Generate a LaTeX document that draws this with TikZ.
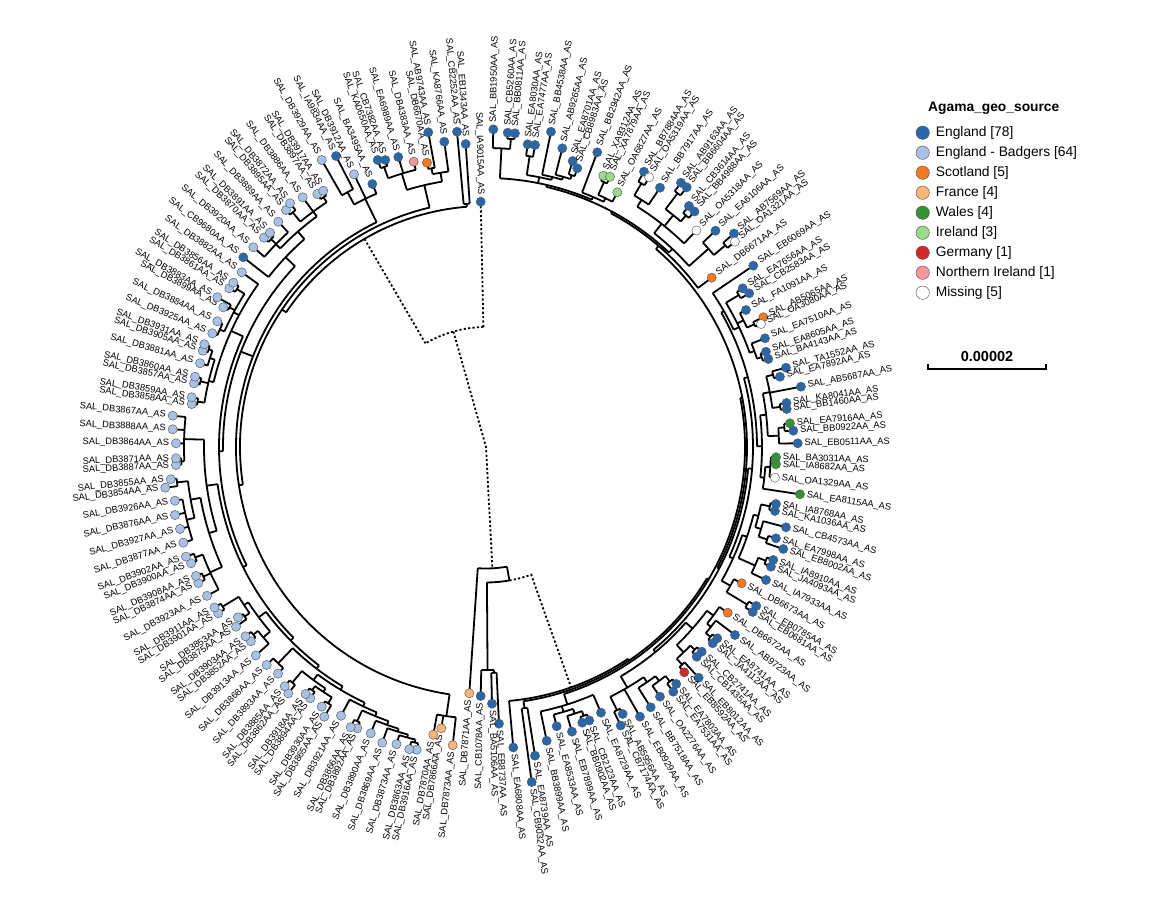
\documentclass[tikz,border=0pt]{standalone}
\usepackage{fontspec}
\setmainfont{Liberation Sans}
\usetikzlibrary{calc}
\pgfdeclarelayer{bg}
\pgfsetlayers{bg,main}
\definecolor{cEng}{RGB}{40,104,170}
\definecolor{cBad}{RGB}{168,193,230}
\definecolor{cSco}{RGB}{243,121,34}
\definecolor{cFra}{RGB}{250,182,118}
\definecolor{cWal}{RGB}{52,148,52}
\definecolor{cIre}{RGB}{152,220,138}
\definecolor{cGer}{RGB}{210,40,40}
\definecolor{cNIr}{RGB}{245,150,150}
\definecolor{cMis}{RGB}{255,255,255}
\tikzset{
  br/.style={line width=1.8pt},
  dotl/.style={line width=1.8pt, dash pattern=on 2.2pt off 2.2pt},
  leafdot/.style={circle, draw=black!65, line width=0.45pt, minimum size=9.2pt, inner sep=0pt},
  legdot/.style={circle, draw=black!65, line width=0.45pt, minimum size=13.4pt, inner sep=0pt},
  lbl/.style={font=\fontsize{9.3}{10}\selectfont, inner sep=0pt},
  legtxt/.style={font=\fontsize{13.8}{16}\selectfont, inner sep=0pt, anchor=west},
}
\newcommand\mkleaf[4]{%
  \pgfmathsetmacro\tmpA{atan2(447-#3,#2-486)}%
  \pgfmathsetmacro\tmpA{\tmpA+360*(\tmpA<-95)}%
  \pgfmathsetmacro\tmpR{veclen(#2-486,447-#3)}%
  \expandafter\xdef\csname th@#1\endcsname{\tmpA}%
  \expandafter\xdef\csname r@#1\endcsname{\tmpR}%
  \node[leafdot, fill=#4] (d#1) at (\tmpA:\tmpR) {};%
  \pgfmathsetmacro\tmpL{\tmpR+6.8}%
  \pgfmathtruncatemacro\tmpS{cos(\tmpA)>=0}%
  \ifnum\tmpS=1
    \node[lbl, anchor=west, rotate=\tmpA] (t#1) at (\tmpA:\tmpL) {SAL\_#1AA\_AS};%
  \else
    \pgfmathsetmacro\tmpB{\tmpA+180}%
    \node[lbl, anchor=east, rotate=\tmpB] (t#1) at (\tmpA:\tmpL) {SAL\_#1AA\_AS};%
  \fi
}
\newcommand\mknode[3]{%
  \foreach \ndc [count=\ndi] in {#3} {\ifnum\ndi=1 \xdef\ndF{\ndc}\fi \xdef\ndL{\ndc}}%
  \edef\ndA{\csname th@\ndF\endcsname}%
  \edef\ndB{\csname th@\ndL\endcsname}%
  \pgfmathsetmacro\ndM{(\ndA+\ndB)/2}%
  \expandafter\xdef\csname th@#1\endcsname{\ndM}%
  \expandafter\xdef\csname r@#1\endcsname{#2}%
  \begin{pgfonlayer}{bg}%
    \draw[br] (\ndA:#2) arc[start angle=\ndA, end angle=\ndB, radius=#2];%
    \foreach \ndc in {#3} {%
      \edef\nca{\csname th@\ndc\endcsname}\edef\ncr{\csname r@\ndc\endcsname}%
      \draw[br] (\nca:#2) -- (\nca:\ncr);}%
  \end{pgfonlayer}%
}
\begin{document}
\begin{tikzpicture}[x=1pt,y=1pt]
\useasboundingbox (-486,-470) rectangle (674,447);
\begin{pgfonlayer}{bg}
\fill[white] (-486,-470) rectangle (674,447);
\end{pgfonlayer}
% ---------- leaves ----------
\mkleaf{IA9015}{480.7}{201.7}{cEng}
\mkleaf{BB1950}{493.3}{129.3}{cEng}
\mkleaf{CB5260}{507.7}{132.7}{cEng}
\mkleaf{BB0811}{515}{133.3}{cEng}
\mkleaf{EA8030}{527.7}{144.3}{cEng}
\mkleaf{EA7477}{535}{145}{cEng}
\mkleaf{BB4538}{551}{131.7}{cEng}
\mkleaf{AB9265}{562.3}{148.3}{cEng}
\mkleaf{EA8701}{572.7}{161}{cEng}
\mkleaf{CB8983}{577.3}{168.3}{cEng}
\mkleaf{BB2942}{597.3}{152.3}{cEng}
\mkleaf{XA9312}{603.3}{175.7}{cIre}
\mkleaf{XA7879}{610}{176.7}{cIre}
\mkleaf{OA6827}{617.3}{192.3}{cIre}
\mkleaf{BB7884}{644}{171.7}{cEng}
\mkleaf{OA5319}{649.3}{177.3}{cMis}
\mkleaf{BB7917}{660}{187.7}{cEng}
\mkleaf{AB9163}{681}{182.7}{cEng}
\mkleaf{BB6604}{686.7}{187.3}{cEng}
\mkleaf{CB3614}{689}{206}{cEng}
\mkleaf{BB4988}{694.5}{211.5}{cEng}
\mkleaf{OA5318}{696.5}{230.5}{cMis}
\mkleaf{EA6106}{715.5}{230.7}{cEng}
\mkleaf{AB7569}{734}{233.5}{cEng}
\mkleaf{OA1321}{735}{241.7}{cMis}
\mkleaf{DB6671}{711.7}{277.7}{cSco}
\mkleaf{EB6069}{753.3}{265.7}{cEng}
\mkleaf{EA7656}{742.7}{288.3}{cEng}
\mkleaf{CB2583}{749.3}{293.3}{cEng}
\mkleaf{FA1091}{746}{310}{cEng}
\mkleaf{AB5065}{763.3}{317.3}{cSco}
\mkleaf{OA3080}{761}{324}{cMis}
\mkleaf{EA7510}{765}{338.3}{cEng}
\mkleaf{EA8605}{766}{351.7}{cEng}
\mkleaf{BA4143}{768.3}{359}{cEng}
\mkleaf{TA1552}{786}{367.7}{cEng}
\mkleaf{EA7892}{780}{376.7}{cEng}
\mkleaf{AB5687}{801}{386.7}{cEng}
\mkleaf{KA8041}{786.5}{403}{cEng}
\mkleaf{BB1460}{786.7}{409}{cEng}
\mkleaf{EA7916}{790}{423.3}{cWal}
\mkleaf{BB0922}{793.3}{430.7}{cEng}
\mkleaf{EB0511}{797.7}{443.3}{cEng}
\mkleaf{BA3031}{776}{457.3}{cWal}
\mkleaf{IA8682}{776}{464.3}{cWal}
\mkleaf{OA1329}{775}{477.7}{cMis}
\mkleaf{EA8115}{800}{494.3}{cWal}
\mkleaf{IA8768}{776}{504}{cEng}
\mkleaf{KA1036}{775}{511}{cEng}
\mkleaf{CB4573}{786}{527.3}{cEng}
\mkleaf{EA7998}{776}{538.3}{cEng}
\mkleaf{EB8002}{783.3}{549}{cEng}
\mkleaf{IA8910}{773.3}{560}{cEng}
\mkleaf{JA4093}{771}{566.7}{cEng}
\mkleaf{IA7933}{766}{580}{cEng}
\mkleaf{DB6673}{741.7}{583.3}{cSco}
\mkleaf{EB0785}{756.3}{606}{cEng}
\mkleaf{EB0681}{752.7}{612}{cEng}
\mkleaf{DB6672}{727.7}{612.7}{cSco}
\mkleaf{AB9723}{735}{635}{cEng}
\mkleaf{EA8741}{717.3}{638.3}{cEng}
\mkleaf{JA4112}{712.7}{643.3}{cEng}
\mkleaf{CB2741}{701.7}{651.7}{cEng}
\mkleaf{CB1435}{696.7}{656.7}{cEng}
\mkleaf{EB8012}{698.7}{677.7}{cEng}
\mkleaf{EB8592}{684.3}{672.3}{cGer}
\mkleaf{EA7803}{676.3}{684}{cEng}
\mkleaf{EA7531}{673.3}{691.7}{cEng}
\mkleaf{OA2276}{660}{696.7}{cEng}
\mkleaf{BB7518}{650.7}{707.3}{cEng}
\mkleaf{EB0929}{640}{716.7}{cEng}
\mkleaf{AB5956}{622.7}{714}{cEng}
\mkleaf{CB7174}{620.7}{725.5}{cEng}
\mkleaf{EA8729}{601}{712.7}{cEng}
\mkleaf{CB2123}{589.3}{720.5}{cEng}
\mkleaf{BB0902}{582.3}{722.7}{cEng}
\mkleaf{EB7899}{572}{731.7}{cEng}
\mkleaf{EA8533}{556.7}{726.3}{cEng}
\mkleaf{BB3899}{546.7}{740.8}{cEng}
\mkleaf{EA8739}{535}{755.7}{cEng}
\mkleaf{CB9032}{531.7}{782}{cEng}
\mkleaf{EA6808}{513.3}{747.5}{cEng}
\mkleaf{EB8737}{499}{723.7}{cEng}
\mkleaf{BA5106}{492}{703.7}{cEng}
\mkleaf{CB1078}{480.7}{696}{cEng}
\mkleaf{DB7871}{469.3}{693.3}{cFra}
\mkleaf{DB7873}{452.7}{745.2}{cFra}
\mkleaf{DB7866}{441.3}{728.3}{cFra}
\mkleaf{DB7870}{433.3}{734.7}{cFra}
\mkleaf{DB3916}{416.7}{749.7}{cBad}
\mkleaf{DB3863}{409.3}{749.3}{cBad}
\mkleaf{DB3873}{396.5}{744.2}{cBad}
\mkleaf{DB3869}{382.3}{742.7}{cBad}
\mkleaf{DB3890}{370.7}{733.3}{cBad}
\mkleaf{DB3892}{357.3}{728.3}{cBad}
\mkleaf{DB3866}{350.7}{727.3}{cBad}
\mkleaf{DB3921}{341}{715.7}{cBad}
\mkleaf{DB3865}{324.3}{716.7}{cBad}
\mkleaf{DB3930}{321.7}{706.7}{cBad}
\mkleaf{DB3894}{310.3}{698.3}{cBad}
\mkleaf{DB3918}{305.5}{694}{cBad}
\mkleaf{DB3862}{288.3}{693.3}{cBad}
\mkleaf{DB3885}{284.7}{686.3}{cBad}
\mkleaf{DB3893}{278}{673.7}{cBad}
\mkleaf{DB3868}{266.7}{665}{cBad}
\mkleaf{DB3913}{255.8}{655.5}{cBad}
\mkleaf{DB3852}{250.8}{641.3}{cBad}
\mkleaf{DB3903}{245.5}{636.3}{cBad}
\mkleaf{DB3875}{236}{626.7}{cBad}
\mkleaf{DB3853}{238}{617.3}{cBad}
\mkleaf{DB3901}{218.3}{613.3}{cBad}
\mkleaf{DB3911}{214.5}{607.5}{cBad}
\mkleaf{DB3923}{207}{595.8}{cBad}
\mkleaf{DB3874}{198.3}{583}{cBad}
\mkleaf{DB3908}{196}{576}{cBad}
\mkleaf{DB3900}{191}{563.3}{cBad}
\mkleaf{DB3902}{186}{556.7}{cBad}
\mkleaf{DB3877}{183.3}{542.7}{cBad}
\mkleaf{DB3927}{180}{529}{cBad}
\mkleaf{DB3876}{175}{515}{cBad}
\mkleaf{DB3926}{175}{500.7}{cBad}
\mkleaf{DB3854}{165.3}{487.7}{cBad}
\mkleaf{DB3855}{170.7}{479.3}{cBad}
\mkleaf{DB3887}{176}{465}{cBad}
\mkleaf{DB3871}{176}{458.3}{cBad}
\mkleaf{DB3864}{176}{443.3}{cBad}
\mkleaf{DB3888}{172.7}{429.3}{cBad}
\mkleaf{DB3867}{172.7}{415.7}{cBad}
\mkleaf{DB3858}{191.7}{404}{cBad}
\mkleaf{DB3859}{191.7}{397.3}{cBad}
\mkleaf{DB3857}{194}{383.3}{cBad}
\mkleaf{DB3860}{195}{376.7}{cBad}
\mkleaf{DB3881}{200}{363.3}{cBad}
\mkleaf{DB3905}{202.7}{350.7}{cBad}
\mkleaf{DB3931}{204.3}{344.3}{cBad}
\mkleaf{DB3925}{212.3}{333.3}{cBad}
\mkleaf{DB3884}{217.3}{321.3}{cBad}
\mkleaf{DB3899}{223.3}{307.3}{cBad}
\mkleaf{DB3883}{217.3}{297.3}{cBad}
\mkleaf{DB3861}{229.3}{288.3}{cBad}
\mkleaf{DB3856}{233.3}{282.7}{cBad}
\mkleaf{DB3882}{241.7}{272.3}{cBad}
\mkleaf{CB9680}{243.3}{257.3}{cEng}
\mkleaf{DB3920}{253.3}{247.3}{cBad}
\mkleaf{DB3870}{264}{237.7}{cBad}
\mkleaf{DB3891}{270}{232.7}{cBad}
\mkleaf{DB3889}{278.3}{221.7}{cBad}
\mkleaf{DB3895}{286}{210}{cBad}
\mkleaf{DB3872}{290}{203.3}{cBad}
\mkleaf{DB3886}{302.7}{197.3}{cBad}
\mkleaf{DB3897}{317.3}{194}{cBad}
\mkleaf{DB3917}{323.3}{190.7}{cBad}
\mkleaf{DB3929}{321.7}{160}{cBad}
\mkleaf{IA9834}{336}{156}{cEng}
\mkleaf{DB3912}{354}{174.3}{cBad}
\mkleaf{BA3495}{372.3}{184}{cEng}
\mkleaf{KA0650}{377.7}{160}{cEng}
\mkleaf{CB7382}{385.3}{160}{cEng}
\mkleaf{EA6989}{398.3}{157}{cEng}
\mkleaf{DB4383}{413.7}{161.7}{cNIr}
\mkleaf{DB6670}{427}{162.7}{cSco}
\mkleaf{AB9743}{428.3}{132.3}{cEng}
\mkleaf{KA8766}{444.3}{141.7}{cEng}
\mkleaf{CB2252}{457}{131.7}{cEng}
\mkleaf{EB1343}{465.7}{144}{cEng}
% ---------- right clade ----------
\mknode{nCB}{309}{CB5260,BB0811}
\mknode{g1}{299}{BB1950,nCB}
\mknode{g2}{294}{EA8030,EA7477}
\mknode{A7}{285}{EA8701,CB8983}
\mknode{A6}{281}{AB9265,A7}
\mknode{A5}{278}{BB4538,A6}
\mknode{A4}{275}{g2,A5}
\mknode{g8a}{290}{XA9312,XA7879}
\mknode{g8}{276}{g8a,OA6827}
\mknode{A3}{272}{BB2942,g8}
\mknode{A2}{269}{g1,A4,A3}
\mknode{g9a}{306}{BB7884,OA5319}
\mknode{g9}{292}{g9a,BB7917}
\mknode{g10a}{318}{AB9163,BB6604}
\mknode{g10b}{306}{CB3614,BB4988}
\mknode{g10}{298}{g10a,g10b}
\mknode{g9x}{284}{g9,g10,OA5318}
\mknode{g12a}{313}{AB7569,OA1321}
\mknode{g12}{298}{EA6106,g12a}
\mknode{g13}{272}{g9x,g12}
\mknode{A1}{267}{A2,g13}
\mknode{RT}{265}{A1,DB6671}
\mknode{m1a}{295}{EA7656,CB2583}
\mknode{m1b}{295}{AB5065,OA3080}
\mknode{m1c}{290}{EA8605,BA4143}
\mknode{m1e}{285}{EA7510,m1c}
\mknode{m1f}{287}{FA1091,m1b}
\mknode{m1d}{280}{m1a,m1f,m1e}
\mknode{m1}{274}{EB6069,m1d}
\mknode{m2a}{296}{TA1552,EA7892}
\mknode{m2b}{297}{KA8041,BB1460}
\mknode{m2}{289}{m2a,AB5687,m2b}
\mknode{m3a}{299}{EA7916,BB0922}
\mknode{m3}{293}{m3a,EB0511}
\mknode{m23}{282}{m2,m3}
\mknode{m4a}{285}{BA3031,IA8682,OA1329}
\mknode{m4}{280}{m4a,EA8115}
\mknode{M1}{276}{m23,m4}
\mknode{M2}{271}{m1,M1}
\mknode{m5a}{290}{IA8768,KA1036}
\mknode{m5b}{296}{EA7998,EB8002}
\mknode{m5c}{287}{CB4573,m5b}
\mknode{m5}{281}{m5a,m5c}
\mknode{m6a}{302}{IA8910,JA4093}
\mknode{m6}{294}{m6a,IA7933}
\mknode{M3}{276}{m5,m6}
\mknode{m7a}{305}{EB0785,EB0681}
\mknode{m7}{281}{DB6673,m7a}
\mknode{M4}{271}{M3,m7}
\mknode{M5}{267}{M2,M4}
\mknode{b1a}{294}{EA8741,JA4112}
\mknode{b1b}{288}{AB9723,b1a}
\mknode{b1}{283}{DB6672,b1b}
\mknode{b2a}{291}{CB2741,CB1435}
\mknode{b2b}{293}{EB8012,EB8592}
\mknode{b2}{285}{b2a,b2b}
\mknode{B1}{275}{b1,b2}
\mknode{b3a}{298}{EA7803,EA7531}
\mknode{b3}{291}{b3a,OA2276}
\mknode{b4}{285}{b3,BB7518}
\mknode{b5a}{294}{AB5956,CB7174}
\mknode{b5}{279}{b4,EB0929,b5a}
\mknode{B2}{266}{B1,b5}
\mknode{b6a}{286}{CB2123,BB0902}
\mknode{b6}{281}{b6a,EB7899}
\mknode{b7}{276}{b6,EA8533}
\mknode{b8}{270}{EA8729,b7,BB3899}
\mknode{b9}{264}{EA8739,CB9032}
\mknode{Q4}{263}{M5,B2}
\mknode{Q3}{261}{RT,Q4}
\mknode{Q2}{259}{Q3,b8}
\mknode{Q1}{257}{Q2,b9}
\mknode{RR}{255}{Q1,EA6808}
% ---------- bottom group ----------
\mknode{bg1}{226}{EB8737,BA5106}
\mknode{bg2}{223}{bg1,CB1078}
% ---------- left clade ----------
\mknode{fr1}{272}{DB7873,DB7866,DB7870}
\mknode{p1}{304}{DB3916,DB3863}
\mknode{q1}{301}{p1,DB3873}
\mknode{q2}{298}{q1,DB3869}
\mknode{q3}{295}{q2,DB3890}
\mknode{p2}{303}{DB3892,DB3866}
\mknode{q4}{291}{q3,p2}
\mknode{q5}{287}{q4,DB3921}
\mknode{p3}{301}{DB3865,DB3930}
\mknode{p4}{299}{DB3894,DB3918}
\mknode{q6}{294}{p3,p4}
\mknode{p5}{305}{DB3862,DB3885}
\mknode{q7}{290}{q6,p5}
\mknode{q8}{283}{q5,q7}
\mknode{q9}{300}{DB3893,DB3868}
\mknode{q10}{279}{q8,q9}
\mknode{p6}{299}{DB3852,DB3903}
\mknode{q11}{293}{DB3913,p6}
\mknode{p7}{295}{DB3875,DB3853}
\mknode{p8}{308}{DB3901,DB3911}
\mknode{q12}{289}{p7,p8}
\mknode{q13}{284}{q11,q12}
\mknode{q14}{275}{q10,q13}
\mknode{p9}{311}{DB3874,DB3908}
\mknode{p10}{311}{DB3900,DB3902}
\mknode{q15}{303}{DB3923,p9,p10}
\mknode{q16}{308}{DB3877,DB3927,DB3876,DB3926}
\mknode{p11}{311}{DB3854,DB3855}
\mknode{q17}{300}{q16,p11}
\mknode{q18}{290}{q15,q17}
\mknode{p12}{305}{DB3887,DB3871}
\mknode{q19}{302}{p12,DB3864,DB3888,DB3867}
\mknode{q20}{282}{q18,q19}
\mknode{L1}{271}{q14,q20}
\mknode{p13}{292}{DB3858,DB3859}
\mknode{p14}{293}{DB3857,DB3860}
\mknode{p15}{294}{DB3905,DB3931}
\mknode{q21}{290}{DB3881,p15}
\mknode{q22}{285}{p13,p14,q21}
\mknode{q23}{291}{DB3925,DB3884}
\mknode{p16}{292}{DB3899,DB3883}
\mknode{p17}{295}{DB3861,DB3856}
\mknode{q24}{286}{q23,p16,p17}
\mknode{q25}{280}{q22,q24,DB3882}
\mknode{L2}{267}{L1,q25}
\mknode{p18}{299}{DB3870,DB3891}
\mknode{q27}{292}{DB3920,p18,DB3889}
\mknode{p19}{304}{DB3895,DB3872}
\mknode{p20}{298}{DB3897,DB3917}
\mknode{q28}{292}{p19,DB3886,p20}
\mknode{q29}{286}{q27,q28}
\mknode{q30}{276}{CB9680,q29}
\mknode{L3}{263}{L2,q30}
\mknode{tl7}{290}{DB3929,IA9834}
\mknode{tl8}{276}{tl7,DB3912,BA3495}
\mknode{L5}{250}{fr1,L3,tl8}
\mknode{tl1}{298}{KA0650,CB7382}
\mknode{tl2}{286}{tl1,EA6989,DB4383}
\mknode{tl3}{284}{DB6670,AB9743}
\mknode{tl4}{278}{tl3,KA8766}
\mknode{tl5}{269}{tl2,tl4}
\mknode{L6}{246}{L5,tl5}
\mknode{tl6}{244}{CB2252,EB1343}
\mknode{L0}{241}{L6,tl6}
% ---------- root connections ----------
\edef\thL{\csname th@L0\endcsname}
\edef\thI{\csname th@IA9015\endcsname}
\edef\rI{\csname r@IA9015\endcsname}
\edef\thR{\csname th@RR\endcsname}
\edef\thD{\csname th@DB7871\endcsname}
\edef\rD{\csname r@DB7871\endcsname}
\edef\thB{\csname th@bg2\endcsname}
\pgfmathsetmacro\thNa{(\thL+\thI)/2}
\pgfmathsetmacro\thNc{(\thB+\thR)/2}
\pgfmathsetmacro\thNb{(\thD+\thNc)/2}
\coordinate (root) at (0,0);
\coordinate (Na) at (\thNa:120);
\coordinate (Nb) at (\thNb:121.5);
\coordinate (Nc) at (\thNc:135.5);
\begin{pgfonlayer}{bg}
\draw[dotl] (\thI:120) arc[start angle=\thI, end angle=\thL, radius=120];
\draw[dotl] (\thI:120) -- (\thI:\rI);
\draw[dotl] (\thL:120) -- (\thL:241);
\draw[dotl] (Na) -- (root) -- (Nb);
\draw[br] (\thD:121.5) arc[start angle=\thD, end angle=\thNc, radius=121.5];
\draw[br] (\thD:121.5) -- (\thD:\rD);
\draw[br] (\thNc:121.5) -- (Nc);
\draw[br] (\thB:135.5) arc[start angle=\thB, end angle=\thNc, radius=135.5];
\draw[br] (\thB:135.5) -- (\thB:223);
\draw[dotl] (Nc) arc[start angle=\thNc, end angle=\thR, radius=135.5] -- (\thR:255);
\end{pgfonlayer}
% ---------- legend & scale (pixel coordinates) ----------
\begin{scope}[shift={(-486pt,447pt)}, x=1pt, y=-1pt]
\node[legtxt, font=\bfseries\fontsize{13.8}{16}\selectfont] (ltitle) at (928,108) {Agama\_geo\_source};
\node[legdot, fill=cEng] (k1) at (922.7,132.7) {};
\node[legtxt] (l1) at (935.7,132.7) {England [78]};
\node[legdot, fill=cBad] (k2) at (922.7,152.7) {};
\node[legtxt] (l2) at (935.7,152.7) {England - Badgers [64]};
\node[legdot, fill=cSco] (k3) at (922.7,172.7) {};
\node[legtxt] (l3) at (935.7,172.7) {Scotland [5]};
\node[legdot, fill=cFra] (k4) at (922.7,192.7) {};
\node[legtxt] (l4) at (935.7,192.7) {France [4]};
\node[legdot, fill=cWal] (k5) at (922.7,212.7) {};
\node[legtxt] (l5) at (935.7,212.7) {Wales [4]};
\node[legdot, fill=cIre] (k6) at (922.7,232.7) {};
\node[legtxt] (l6) at (935.7,232.7) {Ireland [3]};
\node[legdot, fill=cGer] (k7) at (922.7,252.7) {};
\node[legtxt] (l7) at (935.7,252.7) {Germany [1]};
\node[legdot, fill=cNIr] (k8) at (922.7,272.7) {};
\node[legtxt] (l8) at (935.7,272.7) {Northern Ireland [1]};
\node[legdot, fill=cMis] (k9) at (922.7,292.7) {};
\node[legtxt] (l9) at (935.7,292.7) {Missing [5]};
\coordinate (s1) at (928,369);
\coordinate (s2) at (1046,369);
\draw[line width=1.3pt] ($(s1)+(0,-5)$) -- (s1) -- (s2) -- ($(s2)+(0,-5)$);
\node[font=\bfseries\fontsize{14.5}{16}\selectfont, inner sep=0pt] (stext) at (987,357) {0.00002};
\end{scope}
\end{tikzpicture}
\end{document}
